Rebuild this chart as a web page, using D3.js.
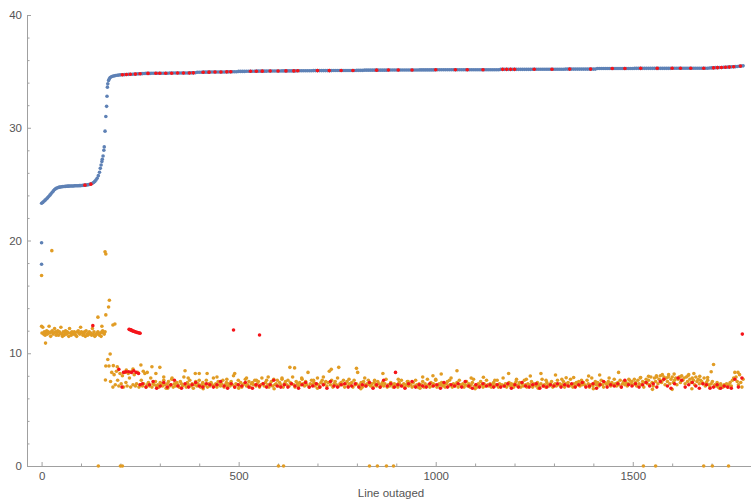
<!DOCTYPE html>
<html><head><meta charset="utf-8">
<script src="https://cdn.jsdelivr.net/npm/d3@7"></script>
<style>body{margin:0;background:#fff;}svg{display:block;}</style>
</head><body>
<svg id="c" width="751" height="502"></svg>
<script>
// ---------- DATA ----------
const xTickValues = [0, 500, 1000, 1500];
const yTickValues = [0, 10, 20, 30, 40];
const xLabel = "Line outaged";

// blue series: head (explicit x) + flat part (x = 205, 210, ... step 5)
const blueHeadX = [0,3,6,9,12,15,18,21,24,27,30,33,36,39,42,45,48,51,54,57,60,63,66,69,72,75,78,81,84,87,90,93,96,99,102,105,108,111,114,117,120,123,126,129,132,135,138,141,144,147,
  149,151,153,154,156,158,159,161,163,165,166,167,168,170,172,174,177,180,184,188,192,196,200];
const blueHeadY = [23.30,23.38,23.48,23.58,23.68,23.78,23.90,24.02,24.15,24.28,24.40,24.52,24.60,24.66,24.70,24.73,24.75,24.77,24.78,24.79,24.80,24.81,24.82,24.82,24.83,24.83,24.84,24.84,24.85,24.85,24.86,24.86,24.87,24.87,24.88,24.89,24.90,24.91,24.92,24.94,24.96,24.99,25.03,25.08,25.15,25.24,25.36,25.52,25.75,26.05,
  26.4,26.7,27.0,27.2,27.5,28.0,28.3,29.7,31.0,31.9,32.8,33.6,33.9,34.2,34.35,34.45,34.52,34.57,34.60,34.63,34.65,34.67,34.69];
const blueFlatStart = 205, blueFlatStep = 5;
const blueFlat = [
  34.70,34.71,34.72,34.73,34.74,34.75,34.76,34.77,34.78,34.79,34.80,
  34.81,34.82,34.82,34.82,34.83,34.83,34.83,34.83,34.84,34.84,34.84,34.84,34.84,34.85,34.85,34.85,34.85,34.85,34.86,34.86,34.86,34.86,34.86,34.87,34.87,34.87,34.88,
  34.92,34.92,34.92,34.93,34.93,34.93,34.93,34.94,34.94,34.94,34.94,34.95,34.95,34.95,34.95,34.96,34.96,34.96,34.97,34.97,34.97,
  35.00,35.00,35.00,35.00,35.01,35.01,35.01,35.01,35.01,35.02,35.02,35.02,35.02,35.02,35.02,35.03,35.03,35.03,35.03,35.03,35.03,35.03,35.04,35.04,35.04,35.04,35.04,35.04,35.04,35.04,35.05,35.05,
  35.06,35.06,35.06,35.06,35.06,35.06,35.07,35.07,35.07,35.07,35.07,35.07,35.07,35.07,35.07,35.07,35.08,35.08,35.08,35.08,35.08,35.08,35.08,35.08,35.08,35.08,35.08,35.08,35.09,35.09,35.09,35.09,
  35.11,35.11,35.11,35.11,35.11,35.11,35.11,35.11,35.11,35.11,35.11,35.11,35.12,35.12,35.12,35.12,35.12,35.12,35.12,35.12,35.12,35.12,35.12,35.12,35.12,35.12,35.12,35.12,35.13,35.13,35.13,35.13,35.13,35.13,35.13,35.13,
  35.14,35.14,35.14,35.14,35.14,35.14,35.14,35.14,35.14,35.14,35.14,35.14,35.14,35.14,35.14,35.14,35.15,35.15,35.15,35.15,35.15,35.15,35.15,35.15,35.15,35.15,35.15,35.15,35.15,35.15,35.15,35.15,35.15,
  35.18,35.18,35.18,35.18,35.18,35.18,35.18,35.18,35.18,35.18,35.18,35.18,35.18,35.18,35.18,35.18,35.19,35.19,35.19,35.19,35.19,35.19,35.19,35.19,35.19,35.19,35.19,35.19,35.19,35.19,35.19,35.19,35.19,35.20,35.20,35.20,35.20,35.20,35.20,35.20,35.20,35.20,35.20,35.20,35.20,35.20,35.20,35.20,35.20,
  35.26,35.26,35.26,35.26,35.26,35.26,35.26,35.26,35.26,35.26,35.26,35.26,35.26,35.26,35.26,35.26,35.26,35.26,35.26,35.27,35.27,35.27,35.27,35.27,35.27,35.27,35.27,35.27,35.27,35.27,35.27,35.27,35.27,35.27,35.27,35.27,35.27,35.27,35.28,35.28,35.28,35.28,35.28,35.28,35.28,35.28,35.28,35.28,35.28,35.28,35.28,35.28,35.28,35.28,35.28,35.28,35.28,
  35.30,35.31,35.32,35.33,35.33,35.34,35.35,35.36,35.37,35.38,35.39,35.40,35.41,35.42,35.43,35.45,35.47,35.49];
const blueExtra = [[0,19.8],[0,17.9]];

// orange series: early cluster (x = 1, 3, ... step 2), band (x = 175, 178, ... step 3), extra points
const orangeHeadStart = 1, orangeHeadStep = 2;
const orangeHead = [
  11.8,12.3,11.7,11.9,11.6,11.8,12.0,11.7,11.9,12.4,11.8,11.5,11.9,12.0,11.7,11.8,12.2,11.9,11.6,11.8,
  12.0,11.6,11.9,11.8,12.3,11.7,11.5,11.9,11.6,11.8,12.0,11.7,11.9,11.8,11.5,12.2,11.8,11.6,11.9,11.8,
  11.7,11.9,11.8,11.6,11.5,11.9,12.0,11.8,11.7,12.3,11.9,11.8,11.6,11.7,11.9,11.5,12.0,11.7,11.6,11.8,
  11.9,11.7,11.8,11.6,12.2,11.7,11.9,11.5,11.6,11.7,11.8,11.9,11.7,11.6,11.8,11.5,11.9,12.0,11.8,11.7,11.9];
const orangeBandStart = 175, orangeBandStep = 3;
const orangeBand = [
  7.5,8.3,7.0,8.1,7.2,8.4,7.6,7.1,8.2,7.3,8.0,7.0,8.3,7.4,7.1,8.2,7.8,7.0,8.4,7.2,
  8.1,7.1,7.3,8.3,7.0,7.2,7.6,7.1,7.3,8.2,7.0,7.2,7.4,7.1,7.8,7.0,7.3,7.2,7.5,7.1,
  7.2,7.0,7.4,7.3,7.1,7.6,7.2,6.9,7.3,7.5,7.1,7.2,7.8,7.0,7.3,7.1,7.4,7.2,7.0,7.5,
  7.3,7.1,7.9,7.2,7.0,7.4,7.2,7.6,7.1,7.3,6.9,7.2,7.5,7.1,7.3,8.2,7.0,7.2,7.4,7.1,
  7.2,7.6,7.0,7.3,7.1,7.4,7.2,7.8,7.1,7.3,7.0,7.5,7.2,7.1,7.3,7.6,7.0,7.2,7.4,7.1,
  7.3,7.1,7.5,7.2,8.0,7.0,7.3,7.2,7.6,7.1,7.4,7.0,7.2,7.3,7.7,7.1,7.2,7.5,7.0,7.3,
  7.4,7.2,7.6,7.1,7.3,7.5,7.0,7.2,7.8,7.3,7.1,7.4,7.6,7.2,7.0,7.3,7.5,7.1,7.7,7.2,
  7.3,7.6,7.1,7.4,7.2,7.8,7.0,7.3,7.5,7.2,7.6,7.1,7.4,7.3,7.9,7.2,7.0,7.5,7.3,7.1,
  7.4,7.2,7.7,7.3,7.1,7.5,7.2,8.3,7.0,7.3,7.6,7.2,7.4,7.1,7.3,7.8,7.2,7.0,7.4,7.6,
  7.2,7.3,7.5,7.1,7.4,8.4,7.2,7.6,7.0,7.3,7.5,7.2,7.8,7.1,7.3,7.4,7.2,7.6,7.0,7.3,
  7.5,7.1,7.3,7.2,7.4,7.0,7.6,7.2,7.3,8.3,7.1,7.2,7.4,7.0,7.5,7.2,7.1,7.3,7.6,7.2,
  7.1,7.3,7.0,7.4,7.2,7.1,7.5,7.3,7.0,7.2,7.4,7.1,7.3,7.7,7.0,7.2,7.1,7.4,7.2,7.0,
  7.3,7.1,7.2,7.0,7.4,7.2,7.6,7.1,7.3,7.0,7.2,7.5,7.1,7.3,7.2,7.0,7.4,7.1,7.6,7.2,
  7.0,7.3,7.1,7.2,7.5,7.0,7.3,7.1,7.7,7.2,7.0,7.4,7.1,7.3,7.2,7.6,7.0,7.1,7.3,7.2,
  7.4,7.1,7.2,7.0,7.3,7.5,7.1,7.2,7.8,7.0,7.3,7.1,7.2,7.4,7.0,7.6,7.2,7.1,7.3,7.0,
  7.2,7.5,7.1,7.3,7.0,7.2,7.4,7.7,7.1,7.2,7.0,7.3,7.1,7.5,7.2,7.0,7.3,7.1,7.6,7.2,
  7.1,7.3,7.0,7.2,7.4,7.1,7.2,7.6,7.0,7.3,7.1,7.2,7.8,7.1,7.3,7.0,7.2,7.4,7.1,7.3,
  7.2,7.0,7.3,7.5,7.1,7.2,7.4,7.0,7.3,7.1,7.6,7.2,7.0,7.3,7.1,7.2,7.5,7.0,7.3,7.2,
  7.1,7.4,7.2,7.0,7.3,7.7,7.1,7.2,7.0,7.4,7.2,7.1,7.3,7.5,7.0,7.2,7.3,7.1,7.6,7.2,
  7.3,7.1,7.2,7.5,7.0,7.3,7.2,7.4,7.1,7.7,7.2,7.0,7.3,7.1,7.4,7.2,7.5,7.1,7.3,7.2,
  7.4,7.2,7.1,7.6,7.3,7.0,7.2,7.8,7.1,7.3,7.5,7.2,7.4,7.1,7.3,7.6,7.2,7.0,7.4,7.3,
  7.2,7.5,7.3,7.1,7.4,7.2,7.7,7.3,7.1,7.4,7.2,7.6,7.0,7.3,7.5,7.2,7.4,7.1,7.3,7.6,
  7.3,7.5,7.2,7.7,7.4,7.1,7.6,7.3,7.8,7.2,7.5,7.0,7.4,7.7,7.3,7.6,7.2,7.9,7.4,7.1,
  7.8,7.5,7.9,7.3,7.7,8.0,7.4,7.6,7.9,7.2,7.8,7.5,8.1,7.3,7.7,7.9,7.4,7.6,7.8,7.2,
  7.7,7.9,7.4,8.0,7.6,7.8,7.3,7.9,7.5,8.1,7.7,7.4,7.8,7.6,7.2,7.9,7.5,7.7,7.3,7.6,
  7.5,7.3,7.8,7.1,7.4,7.6,7.2,7.0,7.3,7.5,9.0,7.2,7.1,7.4,7.0,7.2,7.3,7.1,7.0,7.2,
  7.1,7.3,7.0,7.2,7.4,7.1,7.6,7.8,8.3,7.9,7.5,7.2,8.1,7.4,7.0,7.7];
// second orange layer: points of the band lying above and below the core
const orangeUpper = [[364,8.45],[390,8.2],[420,8.2],[490,8.2],[630,8.75],[642,8.7],[735,8.57],[754,8.75],[799,8.66],[866,8.2],[967,7.9],[993,8.0],
  [1014,8.16],[1054,8.45],[1121,7.87],[1185,8.2],[1230,7.7],[1240,7.98],[1267,8.2],[1304,8.07],[1331,7.83],[1350,7.85],[1388,7.98],[1416,8.07],[1464,8.3],
  [1560,8.0],[1575,8.1],[1590,7.9],[1605,8.15],[1655,8.2],[1699,8.36],[1767,8.3],
  [310,7.9],[330,7.7],[372,7.8],[400,7.6],[445,7.9],[470,7.7],[520,7.8],[545,7.6],[575,7.9],[610,7.7],[660,7.8],[690,7.6],[715,7.9],[780,7.7],
  [820,7.8],[845,7.6],[905,7.7],[930,7.5],[1000,7.7],[1035,7.6],[1090,7.8],[1150,7.6],[1205,7.7],[1280,7.6],[1320,7.7],[1370,7.6],[1440,7.8],[1490,7.7],
  [1520,7.85],[1540,7.95],[1620,7.9],[1640,8.0],[1670,7.95],[1690,7.85],
  [320,6.9],[410,6.85],[500,6.9],[590,6.85],[700,6.9],[810,6.85],[960,6.9],[1100,6.85],[1260,6.9],[1400,6.85],[1550,6.8],[1600,6.8],[1650,6.85],[1720,6.9],
  [182,8.9],[192,8.8],[215,8.5],[232,8.6],[258,8.4],[268,8.3],[290,8.2]];
const orangeExtra = [[0,16.9],[0,12.4],[26,19.1],[161,19.0],[163,18.8],[10,10.9],[143,13.2],[153,12.4],[163,13.4],[170,14.1],[172,14.7],[181,12.5],[186,12.6],
  [168,9.45],[174,9.93],[163,8.87],[171,8.87],[162,7.63],[252,8.96],[280,8.8],[300,8.75],
  [144,0],[200,0],[205,0],[601,0],[614,0],[832,0],[852,0],[875,0],[893,0],[1527,0],[1558,0],[1680,0],[1702,0],[1743,0]];

// red series: band (x = 256, 265, ... step 9), points on the upper curve, extra points
const redBandStart = 256, redBandStep = 9;
const redBand = [
  7.3,7.0,7.2,7.5,6.9,7.1,7.4,7.0,7.2,7.6,7.1,6.9,7.3,7.0,7.2,7.4,7.1,7.0,7.3,7.2,
  7.0,7.2,7.5,7.1,6.9,7.3,7.0,7.2,7.1,7.4,7.0,6.9,7.2,7.1,7.3,7.0,7.2,7.6,7.1,7.0,
  7.2,7.0,7.3,7.1,6.9,7.2,7.4,7.0,7.1,7.3,7.0,7.2,6.9,7.5,7.1,7.0,7.2,7.3,7.0,7.1,
  7.3,7.0,7.2,7.1,7.4,6.9,7.2,7.0,7.6,7.1,7.3,7.0,7.2,7.1,6.9,7.3,7.5,7.0,7.2,7.1,
  7.0,7.3,7.1,7.2,6.9,7.4,7.0,7.2,7.1,7.3,7.0,7.5,7.1,6.9,7.2,7.0,7.3,7.1,7.2,7.0,
  7.2,7.0,7.1,7.3,6.9,7.2,7.0,7.4,7.1,7.0,7.2,7.3,6.9,7.1,7.0,7.2,7.1,7.3,7.0,7.2,
  7.1,7.3,7.0,7.2,7.4,7.0,7.1,7.3,6.9,7.2,7.5,7.0,7.2,7.1,7.3,7.0,7.6,7.2,7.1,7.3,
  7.0,7.2,7.4,7.1,7.3,7.0,7.5,7.7,7.1,6.9,7.3,7.8,7.6,7.0,7.2,7.4,7.1,6.9,7.3,7.2,
  6.9,7.0,7.2,6.9,7.1,7.0,6.9,7.7,7.0,7.8];
const redLine = [[110,24.91],[125,25.0],[205,34.70],[215,34.72],[225,34.74],[238,34.76],[250,34.79],[270,34.82],[290,34.83],[300,34.83],[315,34.84],[330,34.84],[345,34.85],[360,34.86],[375,34.86],[385,34.87],
  [410,34.92],[425,34.93],[440,34.94],[455,34.95],[470,34.96],[480,34.97],[530,35.01],[545,35.01],[560,35.02],[580,35.03],[600,35.03],[620,35.04],[640,35.04],[650,35.05],
  [700,35.07],[730,35.07],[760,35.08],[790,35.08],[850,35.11],[880,35.12],[905,35.12],[940,35.12],[1000,35.14],[1050,35.14],[1080,35.15],[1120,35.15],
  [1170,35.18],[1180,35.18],[1190,35.18],[1200,35.18],[1250,35.19],[1295,35.19],[1340,35.20],[1393,35.20],[1448,35.26],[1480,35.26],[1520,35.27],[1562,35.27],
  [1600,35.28],[1621,35.28],[1647,35.28],[1680,35.28],[1705,35.31],[1715,35.33],[1725,35.35],[1735,35.36],[1745,35.38],[1756,35.41],[1773,35.47]];
const redExtra = [[130,12.45],[222,12.12],[224,12.1],[226,12.07],[228,12.05],[230,12.0],[232,11.98],[234,11.95],[236,11.92],[239,11.88],[242,11.85],[245,11.82],[248,11.8],[250,11.78],
  [487,12.06],[553,11.62],[1778,11.7],[898,8.3],
  [196,8.57],[208,8.3],[214,8.35],[221,8.36],[228,8.3],[234,8.45],[240,8.3],[246,8.2],[204,7.0],[250,7.2]];

// ---------- BUILD POINTS ----------
const bluePts = blueHeadX.map((x,i)=>[x, blueHeadY[i]])
  .concat(blueFlat.map((v,i)=>[blueFlatStart + i*blueFlatStep, v]))
  .concat(blueExtra);
const orangePts = orangeHead.map((v,i)=>[orangeHeadStart + i*orangeHeadStep, v])
  .concat(orangeBand.map((v,i)=>[orangeBandStart + i*orangeBandStep, v]))
  .concat(orangeUpper).concat(orangeExtra);
const redPts = redBand.map((v,i)=>[redBandStart + i*redBandStep, v])
  .concat(redLine).concat(redExtra);

// ---------- DRAW ----------
const svg = d3.select("#c");
const x = d3.scaleLinear().domain([-37, 1800]).range([27, 751]);
const y = d3.scaleLinear().domain([0, 40]).range([466, 15]);
const font = "'Liberation Sans', Arial, sans-serif";
const axisColor = "#a0a0a0", labelColor = "#555";

function styleAxis(g){
  g.selectAll("path").attr("stroke", axisColor).attr("stroke-width", 1);
  g.selectAll("line").attr("stroke", axisColor).attr("stroke-width", 1);
  g.selectAll("text").attr("fill", labelColor).style("font-family", font).style("font-size", "11.5px");
}

// minor ticks
const xMinor = d3.range(100, 1800, 100).filter(v => v % 500 !== 0);
const yMinor = d3.range(2, 40, 2).filter(v => v % 10 !== 0);
svg.append("g").attr("transform","translate(0,466)")
  .call(d3.axisBottom(x).tickValues(xMinor).tickFormat("").tickSizeInner(-2.5).tickSizeOuter(0))
  .call(styleAxis);
svg.append("g").attr("transform","translate(27,0)")
  .call(d3.axisLeft(y).tickValues(yMinor).tickFormat("").tickSizeInner(-2.5).tickSizeOuter(0))
  .call(styleAxis);

// major axes
svg.append("g").attr("transform","translate(0,466)")
  .call(d3.axisBottom(x).tickValues(xTickValues).tickFormat(d3.format("d")).tickSizeInner(-4).tickSizeOuter(0).tickPadding(5.5))
  .call(styleAxis);
svg.append("g").attr("transform","translate(27,0)")
  .call(d3.axisLeft(y).tickValues(yTickValues).tickFormat(d3.format("d")).tickSizeInner(-4).tickSizeOuter(0).tickPadding(5))
  .call(styleAxis);

// axis label
svg.append("text").attr("x", 391).attr("y", 497).attr("text-anchor","middle")
  .attr("fill", labelColor).style("font-family", font).style("font-size","11.5px").text(xLabel);

// points
const r = 1.8;
function drawSeries(pts, color){
  svg.append("g").selectAll("circle").data(pts).join("circle")
    .attr("cx", d => x(d[0])).attr("cy", d => y(d[1])).attr("r", r).attr("fill", color);
}
drawSeries(bluePts, "#5e81b5");
drawSeries(orangePts, "#e19c24");
drawSeries(redPts, "#f5141a");
</script>
</body></html>
